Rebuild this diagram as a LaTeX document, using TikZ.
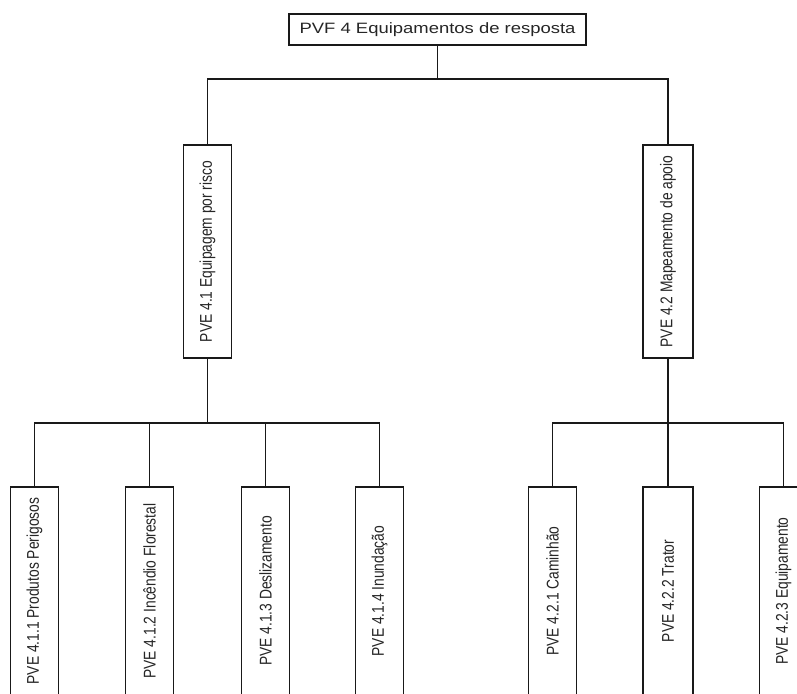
\documentclass[tikz,border=0pt]{standalone}
\usepackage{fontspec}
\setmainfont{Liberation Sans}
\usepackage{graphicx}
\begin{document}
\begin{tikzpicture}[x=1pt,y=-1pt,
  box/.style={draw=black!90,line width=1.6pt,fill=white,rectangle,inner sep=0pt,outer sep=0pt,text=black!85},
  topbox/.style={box,minimum width=297pt,minimum height=31pt,
    font=\fontsize{15}{15}\selectfont},
  vbox/.style={box,minimum width=48pt,font=\fontsize{13.8}{14}\selectfont},
  midbox/.style={vbox,minimum height=213pt},
  leafbox/.style={vbox,minimum height=208pt},
  link/.style={draw=black!90,line width=1.6pt}
]
% page frame and clipping to the visible area
\useasboundingbox (0,0) rectangle (797,693);
\fill[white] (0,0) rectangle (797,693);
\clip (0,0) rectangle (797,693);

% bus lines
\coordinate (busA) at (0,79);
\coordinate (busB) at (0,423);

% root
\node[topbox] (root) at (437.5,29.5) {\scalebox{1.23}[1]{PVF 4 Equipamentos de resposta}};

% second level
\node[midbox] (e41) at (207.5,251.5) {\scalebox{1.23}[1]{\rotatebox{90}{PVE 4.1 Equipagem por risco}}};
\node[midbox,minimum width=50pt] (e42) at (668,251.5) {\scalebox{1.23}[1]{\rotatebox{90}{PVE 4.2 Mapeamento de apoio}}};

% third level
\node[leafbox] (e411) at (34.5,591) {\scalebox{1.23}[1]{\rotatebox{90}{PVE 4.1.1 Produtos Perigosos}}};
\node[leafbox] (e412) at (149.5,591) {\scalebox{1.23}[1]{\rotatebox{90}{PVE 4.1.2 Incêndio Florestal}}};
\node[leafbox] (e413) at (265.5,591) {\scalebox{1.23}[1]{\rotatebox{90}{PVE 4.1.3 Deslizamento}}};
\node[leafbox] (e414) at (379.5,591) {\scalebox{1.23}[1]{\rotatebox{90}{PVE 4.1.4 Inundação}}};
\node[leafbox] (e421) at (552.5,591) {\scalebox{1.23}[1]{\rotatebox{90}{PVE 4.2.1 Caminhão}}};
\node[leafbox,minimum width=50pt] (e422) at (668,591) {\scalebox{1.23}[1]{\rotatebox{90}{PVE 4.2.2 Trator}}};
\node[leafbox] (e423) at (783.5,591) {\scalebox{1.23}[1]{\rotatebox{90}{PVE 4.2.3 Equipamento}}};

% root to second level
\draw[link] (root.south) -- (root.south |- busA);
\draw[link] (e41.north) |- (e42.north |- busA) -- (e42.north);

% PVE 4.1 to its children
\draw[link] (e41.south) -- (e41.south |- busB);
\draw[link] (e411.north) |- (e414.north |- busB) -- (e414.north);
\draw[link] (e412.north) -- (e412.north |- busB);
\draw[link] (e413.north) -- (e413.north |- busB);

% PVE 4.2 to its children
\draw[link] (e42.south) -- (e42.south |- busB);
\draw[link] (e421.north) |- (e423.north |- busB) -- (e423.north);
\draw[link] (e422.north) -- (e422.north |- busB);
\end{tikzpicture}
\end{document}
